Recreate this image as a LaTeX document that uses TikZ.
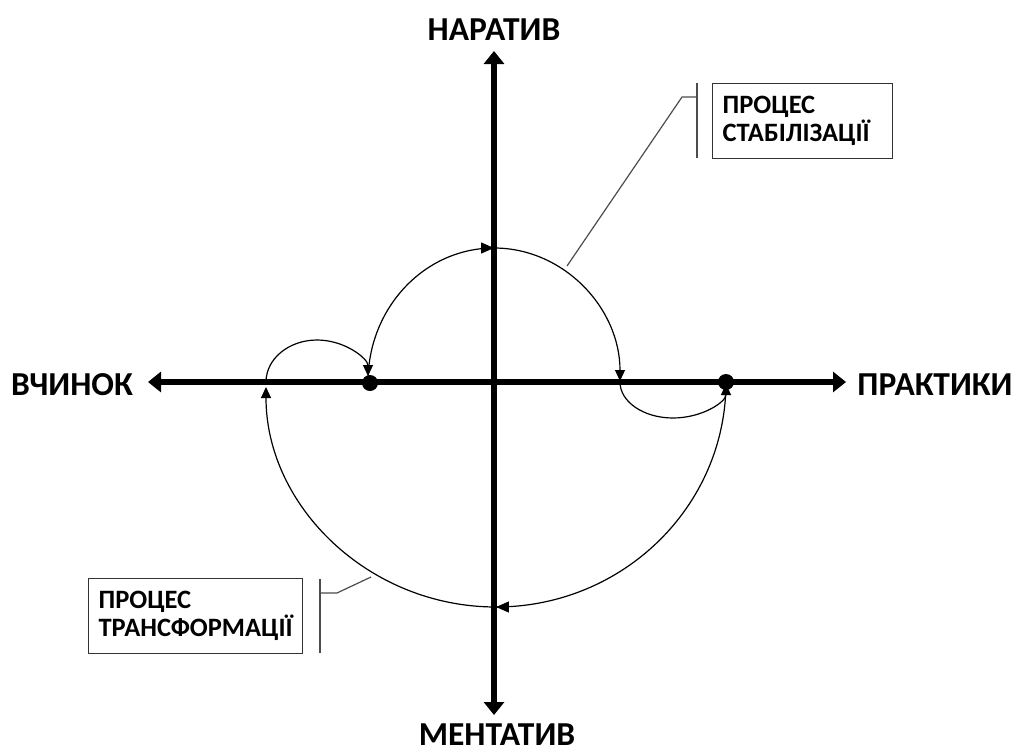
\documentclass[tikz,border=0pt]{standalone}
\usepackage{fontspec}
\setmainfont{Carlito}
\usetikzlibrary{arrows.meta,decorations.markings}
\tikzset{
  axis/.style={line width=6.8pt,-{Triangle[length=13pt,width=20pt]}},
  axislabel/.style={font=\fontsize{33.5}{38}\selectfont\bfseries,inner sep=0pt},
  flow/.style={line width=1.2pt,-{Triangle[length=11pt,width=10pt]}},
  midarrow/.style={postaction={decorate},decoration={markings,mark=at position 0.5 with {\arrow{Triangle[length=13pt,width=11pt]}}}},
  dot/.style={circle,fill=black,minimum size=16pt,inner sep=0pt},
  callbox/.style={draw=black!80,line width=1.2pt,align=left,inner xsep=10pt,inner ysep=0pt,
    font=\fontsize{26.5}{28}\selectfont\bfseries},
  callline/.style={draw=black!70,line width=1.2pt}
}
\begin{document}
\begin{tikzpicture}[x=1pt,y=1pt]
\useasboundingbox (0,0) rectangle (1015,-753);
% axes
\coordinate (O) at (494,-382);
\coordinate (L) at (148,-382);
\coordinate (R) at (846,-382);
\coordinate (T) at (494,-51);
\coordinate (B) at (494,-715);
\draw[axis] (O) -- (L);
\draw[axis] (O) -- (R);
\draw[axis] (O) -- (T);
\draw[axis] (O) -- (B);
\node[axislabel] (nar) at (494,-30) {НАРАТИВ};
\node[axislabel] (men) at (497,-735) {МЕНТАТИВ};
\node[axislabel] (vch) at (72,-385) {ВЧИНОК};
\node[axislabel] (pra) at (935,-385) {ПРАКТИКИ};
% dots
\node[dot] (d1) at (370,-383) {};
\node[dot] (d2) at (726,-382) {};
% points on axis
\coordinate (p1) at (368,-382);
\coordinate (p2) at (620,-382);
\coordinate (p3) at (726,-382);
\coordinate (p4) at (266,-382);
% upper arc
\draw[flow,midarrow,shorten >=1pt] (p1) arc[start angle=180,end angle=0,x radius=126,y radius=134];
% right small loop
\draw[flow,shorten >=2pt] (p2) arc[start angle=180,end angle=360,x radius=53,y radius=36];
% lower big arc
\draw[flow,midarrow,shorten >=5pt] (p3) arc[start angle=0,end angle=-180,x radius=230,y radius=225];
% left small loop
\draw[flow,shorten >=6pt] (p4) arc[start angle=180,end angle=0,x radius=51,y radius=42];
% stabilisation callout
\node[callbox,text width=160pt,minimum height=75pt,anchor=north west] (sbox) at (712,-83)
  {ПРОЦЕС\\СТАБІЛІЗАЦІЇ};
\coordinate (s1) at (697,-83);
\coordinate (s2) at (697,-158);
\coordinate (s3) at (697,-97);
\coordinate (s4) at (682,-97);
\coordinate (s5) at (567,-266);
\draw[callline] (s1) -- (s2);
\draw[callline] (s3) -- (s4) -- (s5);
% transformation callout
\node[callbox,text width=194pt,minimum height=75pt,anchor=north west] (tbox) at (88,-578)
  {ПРОЦЕС\\ТРАНСФОРМАЦІЇ};
\coordinate (t1) at (320,-579);
\coordinate (t2) at (320,-653);
\coordinate (t3) at (320,-593);
\coordinate (t4) at (337,-593);
\coordinate (t5) at (371,-577);
\draw[callline] (t1) -- (t2);
\draw[callline] (t3) -- (t4) -- (t5);
\end{tikzpicture}
\end{document}
